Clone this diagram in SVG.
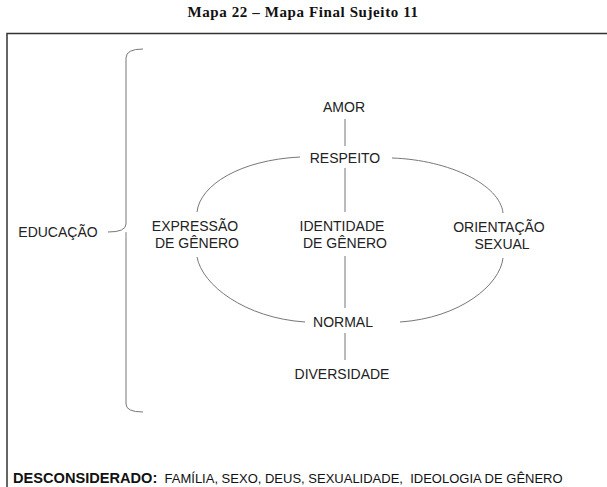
<svg xmlns="http://www.w3.org/2000/svg" width="607" height="487" viewBox="0 0 607 487">
<style>
.t{font-family:"Liberation Sans",Arial,sans-serif;font-size:14px;fill:#222;text-anchor:middle}
.c{fill:none;stroke:#777;stroke-width:1}
</style>
<rect width="607" height="487" fill="#fff"/>
<text x="303" y="17" style="font-family:'Liberation Serif',serif;font-weight:bold;font-size:15px;letter-spacing:0.6px;fill:#111;text-anchor:middle">Mapa 22 – Mapa Final Sujeito 11</text>
<path d="M7,487 V33.5 H607" fill="none" stroke="#333" stroke-width="1.5"/>
<g id="connectors">
<path class="c" d="M143,49 Q126,49 126,58 L126,224 Q126,232 108,232 M126,232 Q126,232 126,240 L126,404 Q126,412 143,412" stroke="#888"/>
<path class="c" d="M345,119 V146 M345,168 V212 M345,256 V308 M345,333 V360"/>
<path class="c" d="M300,157 C240,160 200,185 197,212"/>
<path class="c" d="M197,257 C202,285 245,318 305,322"/>
<path class="c" d="M392,158 C450,160 500,185 503,213"/>
<path class="c" d="M503,258 C500,285 460,318 400,322"/>
</g>
<g id="educacao"><text class="t" x="58" y="237">EDUCAÇÃO</text></g>
<g id="amor"><text class="t" x="344" y="112">AMOR</text></g>
<g id="respeito"><text class="t" x="345" y="163">RESPEITO</text></g>
<g id="expressao"><text class="t" x="195" y="231">EXPRESSÃO</text><text class="t" x="197" y="248">DE GÊNERO</text></g>
<g id="identidade"><text class="t" x="342" y="231">IDENTIDADE</text><text class="t" x="345" y="248">DE GÊNERO</text></g>
<g id="orientacao"><text class="t" x="499" y="232">ORIENTAÇÃO</text><text class="t" x="502" y="249">SEXUAL</text></g>
<g id="normal"><text class="t" x="343" y="327">NORMAL</text></g>
<g id="diversidade"><text class="t" x="342" y="379">DIVERSIDADE</text></g>
<g id="desconsiderado"><text x="13" y="483" style="font-family:'Liberation Sans',Arial,sans-serif;fill:#111;white-space:pre"><tspan font-weight="bold" font-size="14.6">DESCONSIDERADO:</tspan><tspan font-size="13">  FAMÍLIA, SEXO, DEUS, SEXUALIDADE,  IDEOLOGIA DE GÊNERO</tspan></text></g>
</svg>
